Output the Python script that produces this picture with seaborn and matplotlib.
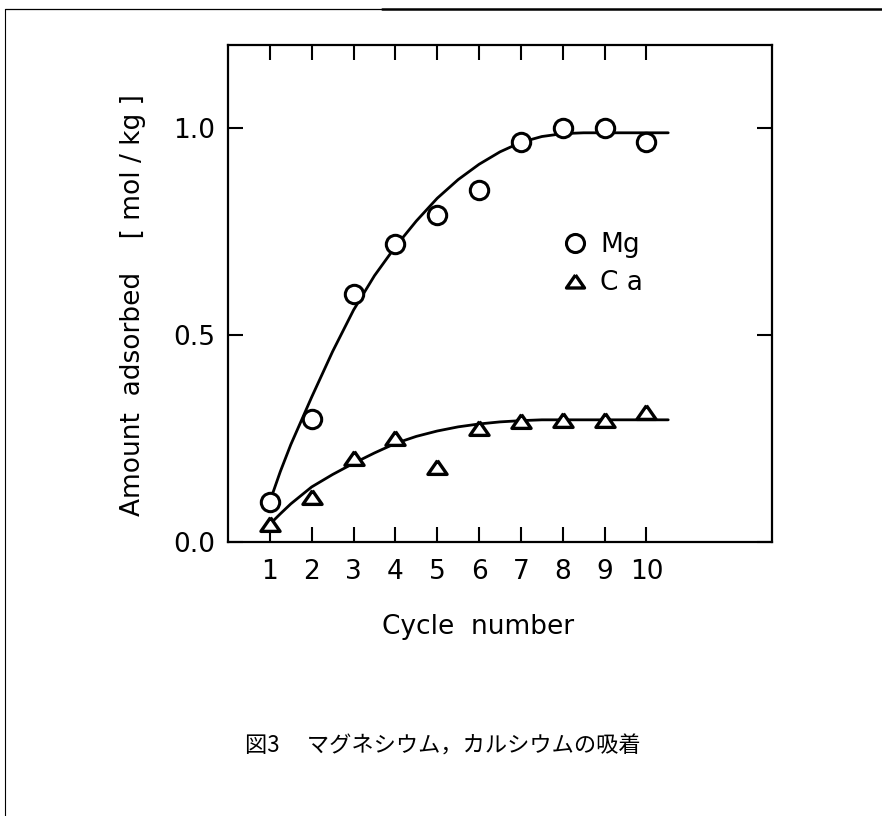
import matplotlib
matplotlib.use("Agg")
import matplotlib.pyplot as plt
from matplotlib.lines import Line2D
import pandas as pd
import seaborn as sns

# %% Data
cycles = [1, 2, 3, 4, 5, 6, 7, 8, 9, 10]
mg_amount = [0.097, 0.297, 0.60, 0.72, 0.79, 0.85, 0.966, 1.0, 1.0, 0.966]
ca_amount = [0.043, 0.109, 0.203, 0.25, 0.18, 0.275, 0.292, 0.295, 0.294, 0.314]

# fitted curves
fit_x = [1.07, 1.25, 1.5, 2.0, 2.5, 3.0, 3.5, 4.0, 4.5, 5.0, 5.5, 6.0, 6.5, 7.0, 7.5, 8.0, 8.5, 9.0, 9.5, 10.0, 10.52]
mg_fit = [0.118, 0.17, 0.235, 0.35, 0.46, 0.56, 0.643, 0.713, 0.775, 0.83, 0.875, 0.912, 0.942, 0.965, 0.979, 0.986, 0.988, 0.988, 0.988, 0.988, 0.988]
ca_fit = [0.05, 0.068, 0.092, 0.133, 0.163, 0.19, 0.215, 0.238, 0.255, 0.268, 0.278, 0.285, 0.29, 0.293, 0.295, 0.295, 0.295, 0.295, 0.295, 0.295, 0.295]

y_ticks = [0.0, 0.5, 1.0]
y_ticklabels = ["0.0", "0.5", "1.0"]

df_pts = pd.DataFrame({"cycle": cycles, "Mg": mg_amount, "Ca": ca_amount})
df_fit = pd.DataFrame({"x": fit_x, "Mg": mg_fit, "Ca": ca_fit})

# %% Style
sns.set_style("ticks")
plt.rcParams['font.family'] = ['DejaVu Sans']
plt.rcParams['text.color'] = 'black'
plt.rcParams['axes.labelcolor'] = 'black'

fig = plt.figure(figsize=(8.82, 8.16), dpi=100)
ax = fig.add_axes([228 / 882, 1 - 542 / 816, 544 / 882, 497 / 816])

# fitted lines
sns.lineplot(x="x", y="Mg", data=df_fit, color="black", linewidth=2.0, sort=False, estimator=None, ax=ax)
sns.lineplot(x="x", y="Ca", data=df_fit, color="black", linewidth=2.0, sort=False, estimator=None, ax=ax)

# flattened triangle marker
tri = [(0, 0.72), (-1, -0.72), (1, -0.72), (0, 0.72)]

sns.scatterplot(x="cycle", y="Mg", data=df_pts, marker="o", s=175, facecolors="white",
                edgecolor="black", linewidth=2.2, ax=ax, zorder=3)
sns.scatterplot(x="cycle", y="Ca", data=df_pts, marker=tri, s=190, facecolors="white",
                edgecolor="black", linewidth=2.4, ax=ax, zorder=3)

ax.set_xlim(0, 13)
ax.set_ylim(0, 1.2)
ax.set_xticks(cycles)
ax.set_xticklabels([str(c) for c in cycles])
ax.set_yticks(y_ticks)
ax.set_yticklabels(y_ticklabels)

for s in ax.spines.values():
    s.set_linewidth(1.6)
    s.set_color("black")

ax.tick_params(axis="both", direction="in", length=11, width=1.5, colors="black",
               labelsize=19, top=True, right=True)
ax.tick_params(axis="x", pad=12)
ax.tick_params(axis="y", pad=9)

ax.set_xlabel("")
ax.set_ylabel("")

# axis titles
fig.text(478 / 882, 1 - 627 / 816, "Cycle  number", ha="center", va="center", fontsize=19)
fig.text(133 / 882, 1 - 305 / 816, "Amount  adsorbed    [ mol / kg ]", ha="center", va="center",
         rotation=90, fontsize=19)

# legend
handles = [Line2D([], [], marker="o", linestyle="none", markersize=13, markerfacecolor="white",
                  markeredgecolor="black", markeredgewidth=2.2),
           Line2D([], [], marker=tri, linestyle="none", markersize=13, markerfacecolor="white",
                  markeredgecolor="black", markeredgewidth=2.4)]
ax.legend(handles, ["Mg", "C a"], frameon=False, fontsize=19, loc="center left",
          bbox_to_anchor=(546 / 882, 1 - 264 / 816), bbox_transform=fig.transFigure,
          handletextpad=0.35, handlelength=1.2, labelspacing=0.45, borderpad=0)

# caption
fig.text(245 / 882, 1 - 746 / 816, "図3　 マグネシウム，カルシウムの吸着", ha="left", va="center",
         fontsize=16, family=["Noto Sans CJK JP", "DejaVu Sans"])

# scan border lines
fig.add_artist(Line2D([5 / 882, 5 / 882], [0, 1 - 9 / 816], transform=fig.transFigure, color="black", linewidth=0.8))
fig.add_artist(Line2D([5 / 882, 382 / 882], [1 - 9 / 816, 1 - 9 / 816], transform=fig.transFigure, color="black", linewidth=0.9))
fig.add_artist(Line2D([382 / 882, 1], [1 - 9 / 816, 1 - 9 / 816], transform=fig.transFigure, color="black", linewidth=1.8))

plt.savefig("out.png", dpi=100)
